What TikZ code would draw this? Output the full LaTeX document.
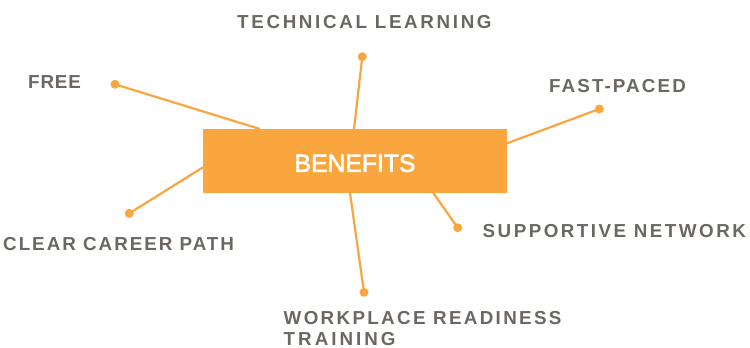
\documentclass[tikz,border=0pt]{standalone}
\usepackage{fontspec}
\setmainfont{Liberation Sans}
\newfontfamily\hubfont[FakeBold=2.5]{Liberation Sans}
\definecolor{orng}{HTML}{F9A63E}
\definecolor{txtgray}{HTML}{6D6763}
\newcommand\lsp[2]{{\addfontfeatures{LetterSpace=#1}#2}}
\begin{document}
\begin{tikzpicture}[x=1pt,y=-1pt,
  lbl/.style={anchor=base west,inner sep=0pt,text=txtgray,font=\fontsize{18.8}{20.5}\selectfont\bfseries},
  dot/.style={circle,fill=orng,inner sep=0pt,minimum size=9pt},
  conn/.style={draw=orng,line width=2.2pt},
  hub/.style={fill=orng,text=white,inner sep=0pt,minimum width=304pt,minimum height=64pt,
    font=\hubfont\fontsize{24.7}{28}\selectfont,text height=17.7pt,text depth=0pt}]
\useasboundingbox (0,0) rectangle (750,348);
% edge points on the hub
\coordinate (e1) at (260,129);
\coordinate (e2) at (354,129);
\coordinate (e3) at (507,143.3);
\coordinate (e4) at (203,167.3);
\coordinate (e5) at (433.3,193);
\coordinate (e6) at (350,193);
% dots
\node[dot] (d1) at (115,84.3) {};
\node[dot] (d2) at (362.3,56.7) {};
\node[dot] (d3) at (599.3,109) {};
\node[dot] (d4) at (129.3,213.3) {};
\node[dot] (d5) at (457.7,227.7) {};
\node[dot] (d6) at (364,292.3) {};
% connectors
\draw[conn] (d1.center) -- (e1);
\draw[conn] (d2.center) -- (e2);
\draw[conn] (d3.center) -- (e3);
\draw[conn] (d4.center) -- (e4);
\draw[conn] (d5.center) -- (e5);
\draw[conn] (d6.center) -- (e6);
% hub
\node[hub] (ben) at (355,161) {\raisebox{-1.9pt}{BENEFITS}};
% labels
\node[lbl] (l1) at (28,88.7) {\lsp{4.6}{FREE}};
\node[lbl] (l2) at (237,28.3) {\lsp{14.1}{TECHNICAL LEARNING}};
\node[lbl] (l3) at (549,92.3) {\lsp{11.2}{FAST-PACED}};
\node[lbl] (l4) at (3,250) {\lsp{10.6}{CLEAR CAREER PATH}};
\node[lbl] (l5) at (482.5,237.3) {\lsp{13.2}{SUPPORTIVE NETWORK}};
\node[lbl,anchor=north west,align=left] (l6) at (283.5,311.5) {\lsp{12.4}{WORKPLACE READINESS}\\\lsp{16}{TRAINING}};
\end{tikzpicture}
\end{document}
